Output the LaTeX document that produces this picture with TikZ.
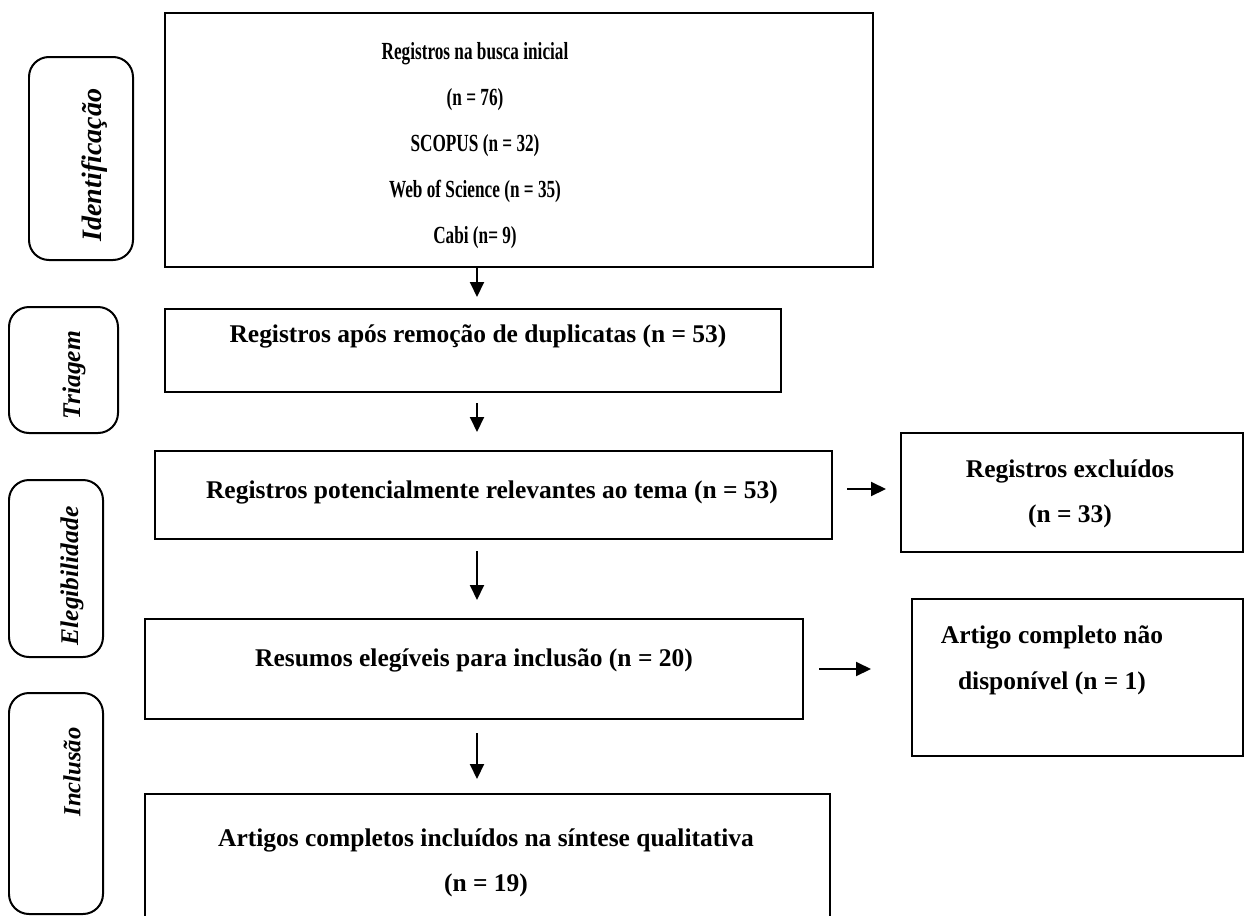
\documentclass[tikz,border=0pt]{standalone}
\usepackage{fontspec}
\setmainfont{Liberation Serif}
\newfontfamily\estreito[FakeStretch=0.7]{Liberation Serif}
\usetikzlibrary{arrows.meta,calc}

\newcommand{\unid}{0.02cm}

\tikzset{
 frame/.style={draw, line width=0.04cm, inner sep=0pt},
 fase/.style={draw, line width=0.04cm, rounded corners=0.4cm, inner sep=0pt},
 txt/.style={font=\bfseries\fontsize{14.5}{26}\selectfont, align=center, inner sep=0pt},
 txtmenor/.style={font=\estreito\bfseries\fontsize{14}{26.2}\selectfont, align=center, inner sep=0pt},
 fasetxt/.style={font=\bfseries\itshape\fontsize{14.5}{17}\selectfont, rotate=90, inner sep=0pt},
 seta/.style={line width=0.04cm, -{Triangle[length=0.3cm,width=0.28cm]}}
}

\begin{document}
\begin{tikzpicture}[x=0.02cm, y=0.02cm]
\useasboundingbox (0,0) rectangle (1244,-916);

% fases
\foreach \n/\cx/\cy/\w/\h/\tx/\ty/\tam/\lab in {ident/81/158.5/104/203/95/165/16/Identificação,
 triagem/63.5/370/109/126/74/375/14.5/Triagem,
 eleg/56/568.5/94/177/72/576/14.5/Elegibilidade,
 incl/56/803.5/94/221/72/772/14/Inclusão} {
 \node[fase, minimum width=\w*\unid, minimum height=\h*\unid] (\n) at (\cx,-\cy) {};
 \node[fasetxt, font=\bfseries\itshape\fontsize{\tam}{17}\selectfont] (\n txt) at (\tx,-\ty) {\lab};
}

% caixas
\node[frame, minimum width=708*\unid, minimum height=254*\unid] (busca) at (519,-140) {};
\node[txtmenor] (buscatxt) at (475,-146) {Registros na busca inicial\\(n = 76)\\SCOPUS (n = 32)\\Web of Science (n = 35)\\Cabi (n= 9)};

\node[frame, minimum width=616*\unid, minimum height=83*\unid] (dup) at (473,-350.5) {};
\node[txt] (duptxt) at (478,-336) {Registros após remoção de duplicatas (n = 53)};

\node[frame, minimum width=677*\unid, minimum height=88*\unid] (relev) at (493.5,-495) {};
\node[txt] (relevtxt) at (492,-492) {Registros potencialmente relevantes ao tema (n = 53)};

\node[frame, minimum width=342*\unid, minimum height=119*\unid] (excl) at (1072,-492.5) {};
\node[txt] (excltxt) at (1070,-494) {Registros excluídos\\(n = 33)};

\node[frame, minimum width=658*\unid, minimum height=100*\unid] (resumo) at (474,-669) {};
\node[txt] (resumotxt) at (474,-660) {Resumos elegíveis para inclusão (n = 20)};

\node[frame, minimum width=331*\unid, minimum height=157*\unid] (artigo) at (1077.5,-677.5) {};
\node[txt] (artigotxt) at (1052,-660) {Artigo completo não\\disponível (n = 1)};

\node[frame, minimum width=685*\unid, minimum height=141*\unid] (sintese) at (487.5,-864.5) {};
\node[txt] (sintesetxt) at (486,-863) {Artigos completos incluídos na síntese qualitativa\\(n = 19)};

% setas
\coordinate (ax) at (477,0);
\draw[seta] (busca.south -| ax) -- ($(dup.north -| ax)+(0,11)$);
\draw[seta] ($(dup.south -| ax)+(0,-10)$) -- ($(relev.north -| ax)+(0,18)$);
\draw[seta] ($(relev.south -| ax)+(0,-11)$) -- ($(resumo.north -| ax)+(0,18)$);
\draw[seta] ($(resumo.south -| ax)+(0,-13)$) -- ($(sintese.north -| ax)+(0,14)$);
\draw[seta] ($(relev.east)+(14,6)$) -- ($(excl.west)+(-14,3.5)$);
\draw[seta] ($(resumo.east)+(15,0)$) -- ($(artigo.west)+(-40,8.5)$);
\end{tikzpicture}
\end{document}
